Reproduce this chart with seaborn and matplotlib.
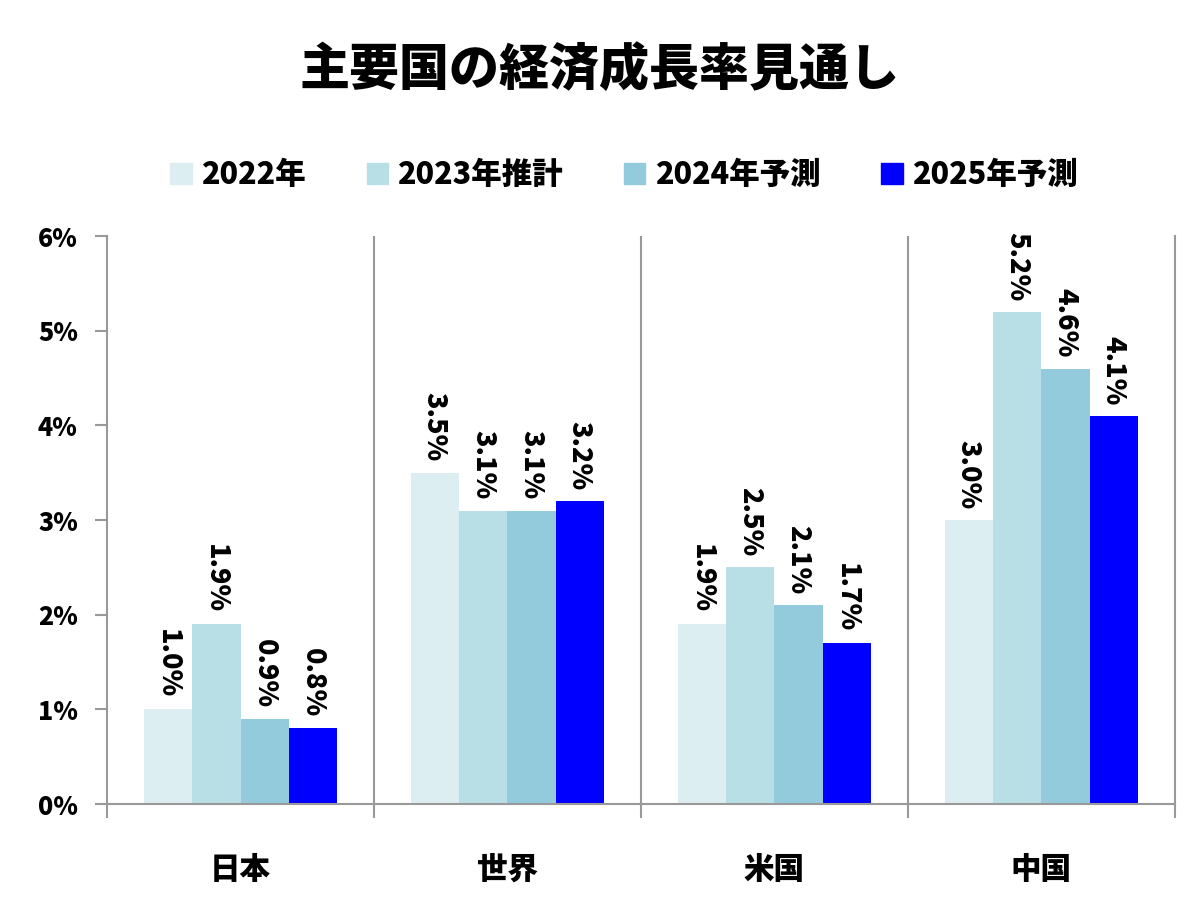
import pandas as pd
import matplotlib
matplotlib.use("Agg")
import matplotlib.pyplot as plt
import seaborn as sns
from matplotlib.ticker import FuncFormatter, FixedLocator

# データ
countries = ["日本", "世界", "米国", "中国"]
series = ["2022年", "2023年推計", "2024年予測", "2025年予測"]
v2022 = [1.0, 3.5, 1.9, 3.0]
v2023 = [1.9, 3.1, 2.5, 5.2]
v2024 = [0.9, 3.1, 2.1, 4.6]
v2025 = [0.8, 3.2, 1.7, 4.1]
colors = ["#DCEEF2", "#B8DEE6", "#93CADC", "#0000FF"]

rows = []
for s, vals in zip(series, [v2022, v2023, v2024, v2025]):
    for c, v in zip(countries, vals):
        rows.append({"国": c, "系列": s, "成長率": v})
df = pd.DataFrame(rows)

sns.set_style("white")
plt.rcParams["font.family"] = ["Noto Sans CJK JP", "DejaVu Sans"]
plt.rcParams["font.weight"] = "heavy"
plt.rcParams["text.color"] = "black"
plt.rcParams["xtick.color"] = "black"
plt.rcParams["ytick.color"] = "black"

fig = plt.figure(figsize=(12, 9.05), dpi=100)
ax = fig.add_axes([0.0892, 0.1116, 0.8898, 0.6274])

sns.barplot(data=df, x="国", y="成長率", hue="系列", order=countries,
            hue_order=series, palette=colors, width=0.725, saturation=1,
            linewidth=0, ax=ax, legend=False)

for cont in ax.containers:
    ax.bar_label(cont, labels=[f"{v:.1f}%" for v in cont.datavalues],
                 rotation=270, padding=8, fontsize=19.5, fontweight="heavy",
                 color="black")

grey = "#999999"
ax.set_ylim(0, 6)
ax.set_xlim(-0.5, 3.5)
ax.yaxis.set_major_formatter(FuncFormatter(lambda v, p: f"{v:.0f}%"))
ax.set_yticks(range(0, 7))
ax.tick_params(axis="y", length=9, width=1.5, color=grey, labelsize=18,
               labelcolor="black", pad=12, left=True)
ax.tick_params(axis="x", which="major", length=0, labelsize=22,
               labelcolor="black", pad=36)
ax.xaxis.set_minor_locator(FixedLocator([-0.5, 0.5, 1.5, 2.5, 3.5]))
ax.tick_params(axis="x", which="minor", length=10, width=1.5, color=grey,
               bottom=True)
for lbl in ax.get_yticklabels() + ax.get_xticklabels():
    lbl.set_fontweight("heavy")

for x in [0.5, 1.5, 2.5]:
    ax.axvline(x, color=grey, lw=1.5, zorder=0)
for side in ["left", "bottom", "right"]:
    ax.spines[side].set_color(grey)
    ax.spines[side].set_linewidth(1.5)
ax.spines["top"].set_visible(False)
ax.set_xlabel("")
ax.set_ylabel("")

handles = [plt.Rectangle((0, 0), 1, 1, color=c) for c in colors]
fig.legend(handles, series, loc="center", bbox_to_anchor=(0.52, 0.807),
           ncol=4, frameon=False, handlelength=0.7, handleheight=0.7,
           handletextpad=0.3, columnspacing=2.0,
           prop={"size": 22, "weight": "heavy"})

fig.suptitle("主要国の経済成長率見通し", fontsize=36, fontweight="heavy",
             y=0.95)

fig.savefig("out.png", dpi=100)
